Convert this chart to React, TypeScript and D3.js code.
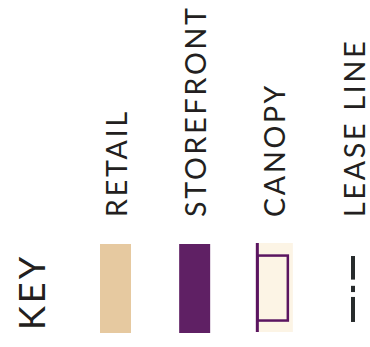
import React from "react";
import * as d3 from "d3";

const keyTitle = "KEY";
const categories = ["RETAIL", "STOREFRONT", "CANOPY", "LEASE LINE"];
const kinds = ["fill", "fill", "canopy", "lease"];
const colors = ["#e6c9a0", "#5f2064", "#fcf4e5", "#272b2c"];

const W = 370;
const H = 347;
const FONT = "Lato, 'Open Sans', sans-serif";

export default function App() {
  const x = d3.scalePoint<string>().domain(categories).range([115.5, 353]);
  const y = d3.scaleLinear().domain([0, 1]).range([333, 244]);
  const sw = 31;

  return (
    <svg width={W} height={H} style={{ position: "absolute", left: 0, top: 0 }}>
      <rect width={W} height={H} fill="#ffffff" />
      <text
        transform={`translate(45,330) rotate(-90)`}
        fontFamily={FONT}
        fontSize={36}
        letterSpacing={3}
        fill="#231f20"
      >
        {keyTitle}
      </text>
      {categories.map((c, i) => {
        const cx = x(c)!;
        const kind = kinds[i];
        return (
          <g key={c}>
            <text
              transform={`translate(${cx + 11.5},217) rotate(-90)`}
              fontFamily={FONT}
              fontSize={28.5}
              letterSpacing={2.8}
              fill="#231f20"
            >
              {c}
            </text>
            {kind === "fill" && (
              <rect x={cx - sw / 2} y={y(1)} width={sw} height={y(0) - y(1)} fill={colors[i]} />
            )}
            {kind === "canopy" && (
              <g>
                <rect x={cx - 18} y={y(1) - 1} width={37} height={y(0) - y(1)} fill={colors[i]} />
                <rect x={cx - 18} y={y(1) - 1} width={3} height={y(0) - y(1)} fill="#5a1560" />
                <rect
                  x={cx - 16.5}
                  y={y(0.87)}
                  width={30.5}
                  height={y(0.14) - y(0.87)}
                  fill="none"
                  stroke="#5a1560"
                  strokeWidth={2.5}
                />
              </g>
            )}
            {kind === "lease" && (
              <g fill={colors[i]}>
                <rect x={cx - 2} y={y(0.865)} width={4} height={y(0.6) - y(0.865)} />
                <rect x={cx - 2} y={y(0.53)} width={4} height={y(0.46) - y(0.53)} />
                <rect x={cx - 2} y={y(0.405)} width={4} height={y(0.124) - y(0.405)} />
              </g>
            )}
          </g>
        );
      })}
    </svg>
  );
}
